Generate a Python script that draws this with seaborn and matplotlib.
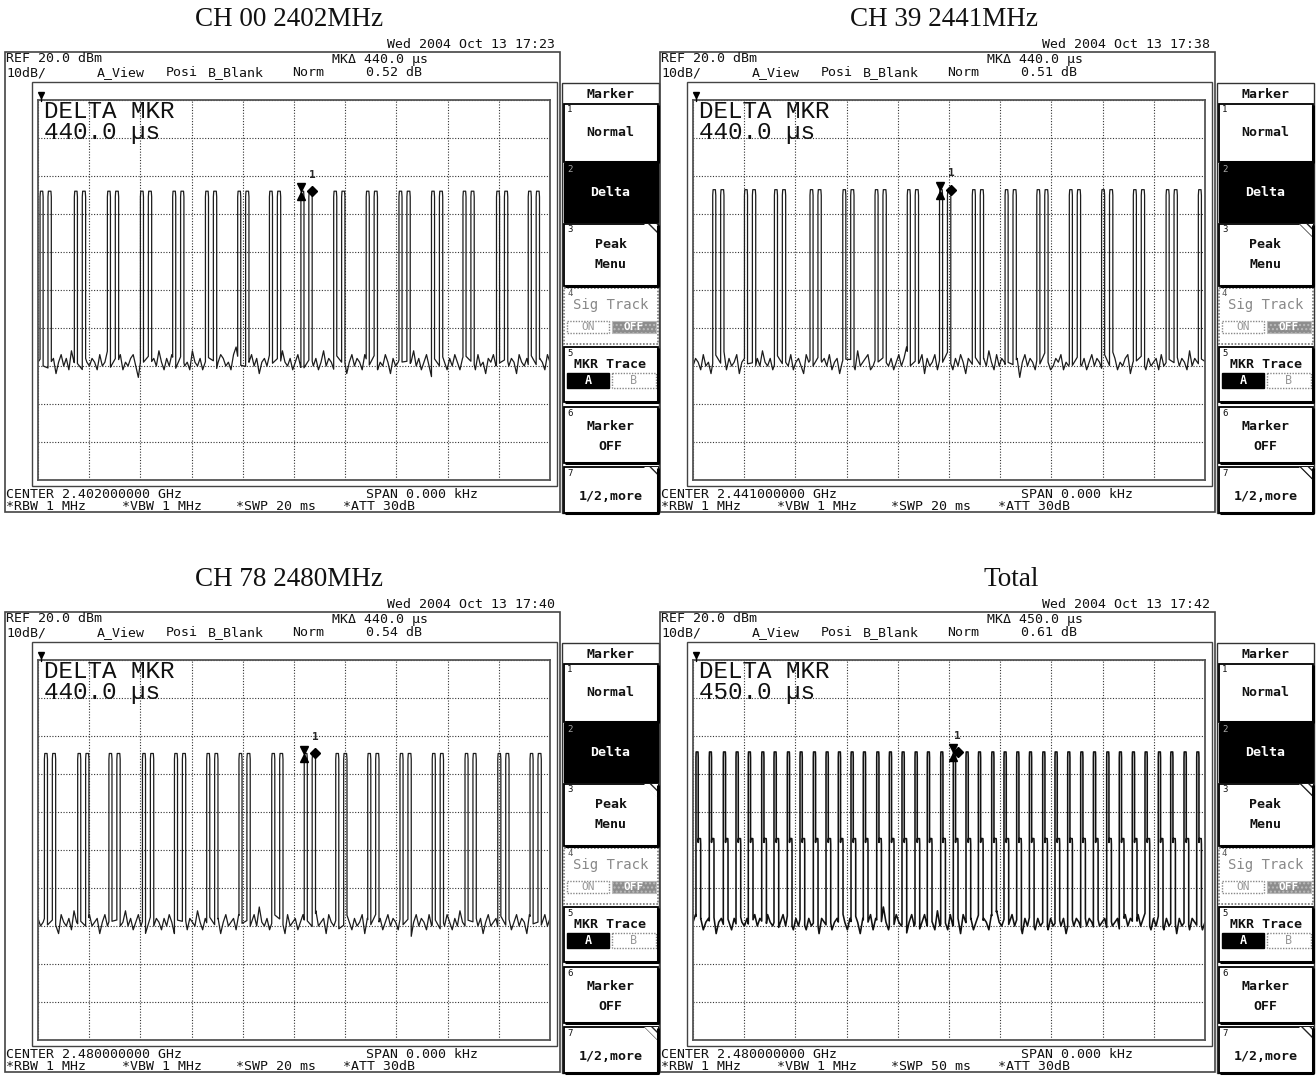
import numpy as np
import pandas as pd
import matplotlib
matplotlib.use("Agg")
import matplotlib.pyplot as plt
from matplotlib.patches import Rectangle, Polygon
import seaborn as sns

# ---------------- data ----------------
titles = ["CH 00 2402MHz", "CH 39 2441MHz", "CH 78 2480MHz", "Total"]
dates = ["Wed 2004 Oct 13 17:23", "Wed 2004 Oct 13 17:38",
         "Wed 2004 Oct 13 17:40", "Wed 2004 Oct 13 17:42"]
mk_delta_us = ["440.0", "440.0", "440.0", "450.0"]
mk_delta_db = ["0.52 dB", "0.51 dB", "0.54 dB", "0.61 dB"]
center_ghz = ["2.402000000", "2.441000000", "2.480000000", "2.480000000"]
sweep_ms = [20, 20, 20, 50]

ch00_bursts_ms = [0.08, 1.42, 2.71, 4.00, 5.26, 6.54, 7.80, 9.04, 10.27, 11.55,
                  12.82, 14.10, 15.37, 16.60, 17.91, 19.15]
ch39_bursts_ms = [0.77, 2.01, 3.18, 4.57, 5.85, 7.11, 8.37, 9.63, 10.91, 12.19,
                  13.43, 14.70, 15.96, 17.20, 18.48, 19.74]
ch78_bursts_ms = [0.25, 1.55, 2.77, 4.08, 5.33, 6.59, 7.85, 9.13, 10.40, 11.63,
                  12.88, 14.14, 15.40, 16.68, 17.96, 19.22]
total_bursts_ms = [0.29, 1.59, 2.96, 4.20, 5.40, 6.71, 7.91, 9.21, 10.45, 11.75,
                   12.99, 14.19, 15.43, 16.63, 17.94, 19.17, 20.41, 21.68, 22.88, 24.19,
                   25.42, 26.66, 27.87, 29.17, 30.37, 31.61, 32.85, 34.15, 35.35, 36.59,
                   37.86, 39.10, 40.40, 41.63, 42.90, 44.14, 45.44, 46.65, 47.95, 49.19]
burst_top_dbm = [-4.0, -3.6, -4.6, -4.2]
shoulder_dbm = -27.0
marker_ref_ms = [10.27, 9.65, 10.39, 25.40]
marker_delta_ms = [10.71, 10.09, 10.83, 25.85]

ch00_noise = [
    -49, -48, -50, -47, -51, -49, -48, -52, -49, -47, -50, -48, -51, -46, -49, -50, -48, -52, -47, -49,
    -50, -48, -49, -51, -47, -50, -49, -46, -50, -52, -48, -49, -47, -51, -49, -50, -48, -47, -50, -53,
    -48, -49, -51, -47, -49, -48, -50, -46, -49, -51, -48, -50, -47, -49, -52, -48, -47, -50, -49, -51,
    -46, -49, -50, -48, -51, -49, -47, -50, -48, -52, -49, -47, -48, -50, -49, -51, -47, -45, -49, -50,
    -48, -51, -49, -47, -50, -48, -52, -49, -48, -50, -47, -49, -51, -48, -50, -46, -49, -50, -48, -51,
    -49, -47, -50, -52, -48, -49, -47, -50, -48, -51, -49, -46, -50, -48, -49, -51, -47, -50, -49, -48,
    -52, -49, -47, -50, -48, -49, -51, -47, -49, -50, -46, -48, -51, -49, -50, -47, -49, -52, -48, -50,
    -49, -47, -51, -48, -50, -49, -46, -50, -48, -51, -49, -47, -50, -53, -48, -49, -50, -47, -49, -51,
    -48, -50, -47, -49, -51, -48, -46, -50, -49, -48, -51, -47, -50, -49, -52, -48, -49, -47, -50, -48,
    -51, -49, -47, -50, -48, -49, -52, -47, -49, -50, -48, -51, -46, -49, -50, -48, -49, -51, -47, -49]
ch39_noise = [
    -50, -48, -49, -51, -47, -50, -49, -52, -48, -47, -50, -49, -46, -51, -48, -50, -49, -47, -52, -49,
    -48, -50, -47, -49, -51, -48, -50, -46, -49, -50, -48, -51, -49, -47, -53, -48, -49, -50, -47, -51,
    -49, -48, -50, -52, -47, -49, -48, -51, -50, -46, -49, -48, -50, -47, -51, -49, -48, -52, -49, -47,
    -50, -48, -49, -51, -46, -50, -49, -48, -47, -51, -50, -48, -49, -52, -47, -49, -50, -48, -51, -49,
    -47, -50, -48, -45, -49, -51, -48, -50, -49, -47, -52, -48, -50, -49, -47, -51, -48, -49, -50, -46,
    -49, -51, -48, -50, -47, -49, -52, -48, -49, -50, -47, -51, -49, -48, -50, -46, -49, -51, -47, -50,
    -48, -49, -51, -47, -50, -49, -48, -53, -49, -47, -50, -48, -49, -51, -47, -50, -48, -46, -49, -51,
    -50, -48, -49, -47, -51, -49, -50, -48, -52, -47, -49, -50, -48, -51, -49, -47, -50, -48, -49, -51,
    -47, -49, -50, -46, -48, -51, -49, -50, -48, -47, -52, -49, -48, -50, -47, -49, -51, -48, -50, -49,
    -48, -51, -47, -50, -49, -48, -52, -49, -47, -50, -48, -49, -51, -46, -50, -48, -49, -50, -47, -49]
ch78_noise = [
    -48, -50, -49, -47, -51, -49, -48, -50, -52, -47, -49, -50, -48, -51, -46, -49, -50, -48, -49, -51,
    -47, -50, -49, -48, -52, -49, -47, -50, -48, -49, -51, -47, -50, -49, -46, -50, -48, -51, -49, -47,
    -50, -48, -53, -49, -47, -50, -48, -49, -51, -48, -50, -47, -49, -52, -48, -50, -49, -47, -51, -48,
    -49, -50, -46, -49, -51, -48, -50, -47, -49, -50, -48, -52, -49, -47, -50, -49, -48, -51, -47, -49,
    -50, -48, -51, -49, -47, -50, -45, -49, -50, -48, -51, -49, -47, -50, -48, -49, -52, -47, -50, -49,
    -48, -51, -49, -47, -50, -48, -49, -51, -46, -50, -49, -48, -52, -47, -49, -50, -48, -51, -49, -50,
    -47, -49, -51, -48, -50, -49, -47, -52, -48, -50, -49, -46, -50, -48, -51, -49, -47, -50, -48, -49,
    -51, -47, -50, -49, -48, -53, -49, -47, -50, -48, -49, -51, -47, -50, -48, -49, -52, -48, -50, -47,
    -49, -51, -48, -50, -46, -49, -50, -48, -51, -49, -47, -50, -48, -52, -49, -47, -50, -49, -48, -51,
    -47, -49, -50, -48, -51, -49, -47, -50, -48, -49, -52, -47, -49, -50, -48, -51, -49, -47, -50, -48]
total_noise = [
    -49, -47, -50, -48, -51, -49, -48, -50, -47, -52, -49, -48, -50, -47, -49, -51, -48, -50, -46, -49,
    -50, -48, -51, -49, -47, -50, -48, -49, -52, -47, -49, -50, -48, -51, -49, -47, -50, -46, -49, -51,
    -48, -50, -47, -49, -51, -48, -50, -49, -47, -52, -48, -49, -50, -47, -51, -49, -48, -50, -46, -49,
    -51, -48, -50, -47, -49, -52, -48, -50, -49, -47, -51, -48, -49, -50, -45, -49, -51, -48, -50, -47,
    -49, -50, -48, -52, -49, -47, -50, -48, -51, -49, -47, -50, -48, -49, -51, -46, -50, -48, -49, -51,
    -47, -50, -49, -48, -52, -47, -49, -50, -48, -51, -49, -47, -50, -48, -49, -51, -47, -50, -46, -49,
    -50, -48, -51, -49, -47, -50, -48, -49, -52, -48, -50, -47, -49, -51, -48, -50, -49, -47, -51, -48,
    -50, -49, -47, -50, -48, -52, -49, -47, -50, -48, -49, -51, -46, -50, -48, -49, -51, -47, -50, -49,
    -48, -51, -47, -50, -49, -48, -52, -49, -47, -50, -48, -49, -51, -47, -50, -48, -46, -49, -51, -48,
    -50, -47, -49, -51, -48, -50, -49, -47, -52, -48, -50, -49, -47, -51, -48, -49, -50, -48, -51, -49]

bursts_all = [ch00_bursts_ms, ch39_bursts_ms, ch78_bursts_ms, total_bursts_ms]
noise_all = [ch00_noise, ch39_noise, ch78_noise, total_noise]
burst_kind = ["pair", "pair", "pair", "shoulder"]

# ---------------- helpers ----------------
W, H = 1316, 1081
MONO = "DejaVu Sans Mono"
sns.set_style("white")
plt.rcParams["hatch.linewidth"] = 1.0

fig = plt.figure(figsize=(W / 100, H / 100), dpi=100)
ov = fig.add_axes([0, 0, 1, 1])
ov.set_xlim(0, W)
ov.set_ylim(H, 0)
ov.axis("off")
ov.set_zorder(5)
ov.patch.set_alpha(0)


def T(x, y, s, size=9.5, family=MONO, **kw):
    kw.setdefault("va", "center")
    kw.setdefault("ha", "left")
    kw.setdefault("color", "#111111")
    ov.text(x, y, s, fontsize=size, family=family, **kw)


def build_trace(sweep, noise, bursts, top, kind):
    tn = np.linspace(0, sweep, len(noise))
    nz = np.asarray(noise, dtype=float)
    if kind == "pair":
        prof = [(0.0, "f"), (0.0, top - 1.5), (0.015, top), (0.105, top), (0.12, top - 1.5), (0.12, "f"),
                (0.31, "f"), (0.31, top - 1.5), (0.325, top), (0.425, top), (0.44, top - 1.5), (0.44, "f")]
        span = 0.44
    else:
        prof = [(0.0, "f"), (0.0, top - 1.5), (0.02, top), (0.20, top), (0.22, top - 1.5),
                (0.22, shoulder_dbm - 1.0), (0.24, shoulder_dbm), (0.44, shoulder_dbm),
                (0.46, shoulder_dbm - 1.5), (0.46, "f")]
        span = 0.46
    keep = np.ones(len(tn), dtype=bool)
    pts = []
    for s in bursts:
        keep &= ~((tn >= s) & (tn <= s + span))
        for dt, lv in prof:
            t = s + dt
            pts.append((t, float(np.interp(t, tn, nz)) if lv == "f" else lv))
    pts += list(zip(tn[keep], nz[keep]))
    pts.sort(key=lambda p: p[0])
    return pd.DataFrame(pts, columns=["ms", "dBm"])


def marker_panel(ox, oy):
    ov.add_patch(Rectangle((561.5 + ox, 83 + oy), 97.5, 430, fill=False, ec="#333", lw=1.0))
    cx = 610.5 + ox
    T(cx, 94 + oy, "Marker", weight="bold", ha="center")
    boxes = [(104, 162, "w"), (163, 222, "k"), (224, 286, "w"), (288, 344, "d"),
             (347, 402, "w"), (407, 463, "w"), (467, 513, "w")]
    for i, (y0, y1, st) in enumerate(boxes):
        x0, x1 = 564 + ox, 657.5 + ox
        Y0, Y1 = y0 + oy, y1 + oy
        if st == "k":
            ov.add_patch(Rectangle((x0, Y0), x1 - x0, Y1 - Y0, fc="black", ec="black", lw=1))
            ncol = "#aaaaaa"
        elif st == "d":
            ov.add_patch(Rectangle((x0, Y0), x1 - x0, Y1 - Y0, fc="white", ec="#777777", lw=1.2, ls=(0, (1, 1))))
            ncol = "#555555"
        else:
            ov.add_patch(Rectangle((x0, Y0), x1 - x0, Y1 - Y0, fc="white", ec="black", lw=1.3))
            ov.plot([x0 + 1, x1, x1], [Y1, Y1, Y0 + 1], color="black", lw=2.2, solid_capstyle="butt")
            ncol = "#111111"
        T(x0 + 3, Y0 + 6, str(i + 1), size=6.5, color=ncol)
        if i in (2, 6):
            ov.add_patch(Polygon([(x1 - 14, Y0), (x1, Y0), (x1, Y0 + 14)], closed=True,
                                 fc="white", ec="#222222", hatch="\\\\\\\\", lw=0))
    T(cx, 133 + oy, "Normal", weight="bold", ha="center")
    T(cx, 193 + oy, "Delta", weight="bold", ha="center", color="white")
    T(cx, 244 + oy, "Peak", weight="bold", ha="center")
    T(cx, 265 + oy, "Menu", weight="bold", ha="center")
    T(cx, 305 + oy, "Sig Track", size=10, ha="center", color="#888888")
    ov.add_patch(Rectangle((567 + ox, 321 + oy), 42, 12, fc="white", ec="#888", lw=1, ls=(0, (1, 1))))
    ov.add_patch(Rectangle((612 + ox, 321 + oy), 44, 12, fc="#8c8c8c", ec="#bbbbbb", lw=0.8, hatch="...."))
    T(588 + ox, 327 + oy, "ON", size=8, ha="center", color="#999999")
    T(634 + ox, 327 + oy, "OFF", size=8, ha="center", color="white", weight="bold")
    T(cx, 364 + oy, "MKR Trace", weight="bold", ha="center")
    ov.add_patch(Rectangle((567 + ox, 373 + oy), 42, 15, fc="black", ec="black", lw=1))
    ov.add_patch(Rectangle((612 + ox, 373 + oy), 44, 15, fc="white", ec="#888", lw=1, ls=(0, (1, 1))))
    T(588 + ox, 381 + oy, "A", size=8.5, ha="center", color="white", weight="bold")
    T(634 + ox, 381 + oy, "B", size=8.5, ha="center", color="#999999")
    T(cx, 426 + oy, "Marker", weight="bold", ha="center")
    T(cx, 446 + oy, "OFF", weight="bold", ha="center")
    T(cx, 496 + oy, "1/2,more", weight="bold", ha="center")


title_x = [289, 944, 289, 1011]

for p in range(4):
    col, row = p % 2, p // 2
    ox, oy = 655 * col, 560 * row
    sw = sweep_ms[p]

    # title and date
    T(title_x[p], 20 + oy, titles[p], size=19.5, family="Liberation Serif", ha="center")
    T(555 + ox, 44 + oy, dates[p], ha="right")

    # screen frames
    ov.add_patch(Rectangle((5 + ox, 52 + oy), 555, 460, fill=False, ec="#444", lw=1.2))
    ov.add_patch(Rectangle((32 + ox, 82 + oy), 525, 404, fill=False, ec="#444", lw=1.0))
    ov.plot([41 + ox], [95 + oy], marker="v", ms=5, color="black")
    ov.plot([41 + ox, 41 + ox], [95 + oy, 101 + oy], color="black", lw=1)

    # header text
    T(6 + ox, 59 + oy, "REF 20.0 dBm")
    T(6 + ox, 73 + oy, "10dB/")
    T(97 + ox, 73 + oy, "A_View")
    T(166 + ox, 73 + oy, "Posi")
    T(208 + ox, 73 + oy, "B_Blank")
    T(292 + ox, 73 + oy, "Norm")
    T(332 + ox, 59 + oy, "MK\u0394 " + mk_delta_us[p] + " \u00b5s")
    T(366 + ox, 73 + oy, mk_delta_db[p])
    T(6 + ox, 494 + oy, "CENTER " + center_ghz[p] + " GHz")
    T(366 + ox, 494 + oy, "SPAN 0.000 kHz")
    T(6 + ox, 506 + oy, "*RBW 1 MHz")
    T(122 + ox, 506 + oy, "*VBW 1 MHz")
    T(236 + ox, 506 + oy, "*SWP %d ms" % sw)
    T(343 + ox, 506 + oy, "*ATT 30dB")

    # graticule axes
    gx0, gx1, gy0, gy1 = 38 + ox, 550 + ox, 100 + oy, 480 + oy
    ax = fig.add_axes([gx0 / W, 1 - gy1 / H, (gx1 - gx0) / W, (gy1 - gy0) / H])
    ax.set_xlim(0, sw)
    ax.set_ylim(-80, 20)
    ax.set_xticks(np.linspace(0, sw, 11))
    ax.set_yticks(np.linspace(-80, 20, 11))
    ax.grid(True, color="#333333", lw=0.8, ls=(0, (1, 1.5)))
    ax.tick_params(length=0, labelbottom=False, labelleft=False)
    for s in ax.spines.values():
        s.set_color("#555555")
        s.set_linewidth(1.3)

    df = build_trace(sw, noise_all[p], bursts_all[p], burst_top_dbm[p], burst_kind[p])
    sns.lineplot(data=df, x="ms", y="dBm", ax=ax, sort=False, estimator=None,
                 color="#111111" if p == 3 else "#1c1c1c", lw=1.15 if p == 3 else 0.9)
    ax.set_xlabel("")
    ax.set_ylabel("")

    # markers
    top = burst_top_dbm[p]
    xr, xd = marker_ref_ms[p], marker_delta_ms[p]
    ax.plot([xr], [top + 1.0], marker="v", ms=6, color="black", clip_on=False)
    ax.plot([xr], [top - 1.3], marker="^", ms=6, color="black", clip_on=False)
    ax.plot([xd], [top], marker="D", ms=5.5, color="black", clip_on=False)
    ax.text(xd, top + 3.0, "1", fontsize=8, family=MONO, weight="bold", ha="center", va="bottom")

    # big delta readout (one two-line text; baseline of the last line)
    T(44 + ox, 139 + oy, "DELTA MKR\n" + mk_delta_us[p] + " \u00b5s", size=17.5,
      family="Liberation Mono", va="baseline", linespacing=0.88)

    marker_panel(ox, oy)

fig.savefig("out.png", dpi=100, facecolor="white")
